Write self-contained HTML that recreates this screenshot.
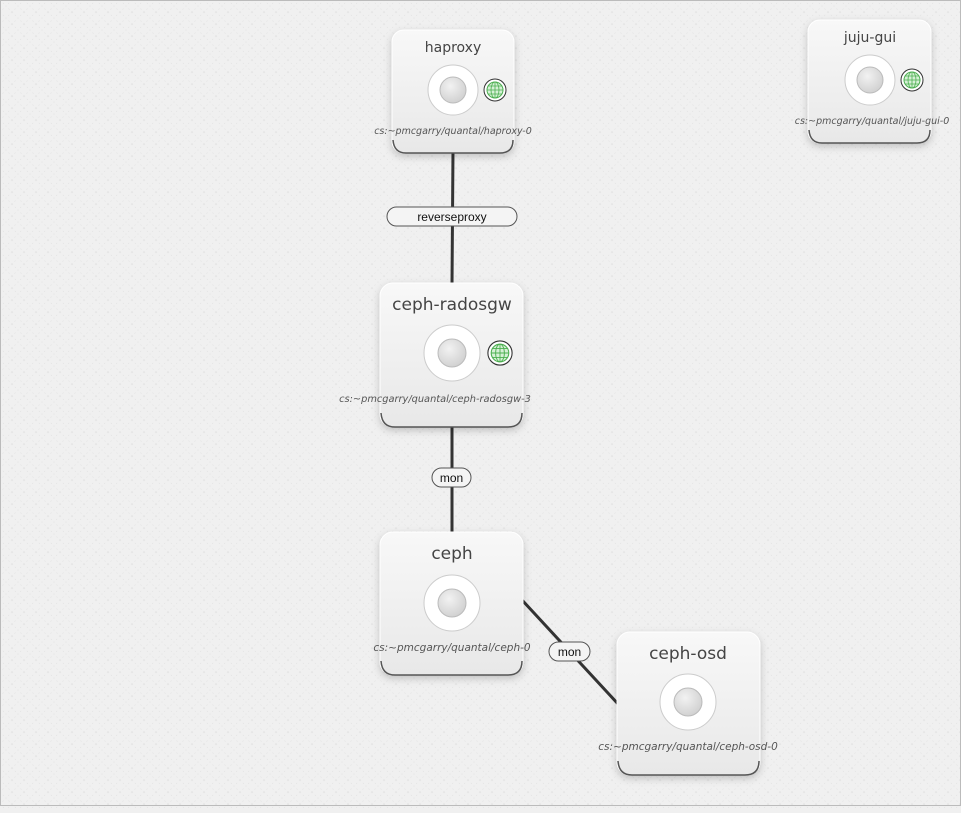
<!DOCTYPE html>
<html><head><style>
body{margin:0;width:961px;height:808px;overflow:hidden;background:#f0f0f0;font-family:"Liberation Sans",sans-serif}
</style></head><body>
<svg width="961" height="808" xmlns="http://www.w3.org/2000/svg">
<defs>
<pattern id="dots" width="12" height="12" patternUnits="userSpaceOnUse">
<rect width="12" height="12" fill="#f0f0f0"/>
<path d="M0 0L12 12M12 0L0 12" stroke="#e2e2e2" stroke-width="0.6" stroke-dasharray="1.5 2.5"/>
</pattern>
<linearGradient id="box" x1="0" y1="0" x2="0" y2="1"><stop offset="0" stop-color="#f8f8f8"/><stop offset="1" stop-color="#e8e8e8"/></linearGradient>
<radialGradient id="inner" cx="0.4" cy="0.35" r="0.7"><stop offset="0" stop-color="#f2f2f2"/><stop offset="1" stop-color="#cfcfcf"/></radialGradient>
<filter id="sh" x="-20%" y="-20%" width="140%" height="150%"><feDropShadow dx="0" dy="3" stdDeviation="4" flood-color="#000" flood-opacity="0.2"/></filter>
<g id="globe"><circle r="11" fill="#fff" stroke="#333" stroke-width="1"/><circle r="8" fill="#d6f0d6" stroke="#4caf50" stroke-width="1"/><path d="M-8 0H8M0 -8V8M-7 -4H7M-7 4H7" stroke="#4caf50" stroke-width="0.8" fill="none"/><ellipse rx="4" ry="8" fill="none" stroke="#4caf50" stroke-width="0.8"/></g>
</defs>
<rect width="961" height="808" fill="url(#dots)"/>
<rect x="0.5" y="0.5" width="960" height="805" fill="none" stroke="#bbb"/>
<g stroke="#333" stroke-width="3">
<line x1="453" y1="150" x2="452" y2="285"/>
<line x1="452" y1="425" x2="452" y2="535"/>
<line x1="522" y1="600" x2="619" y2="705"/>
</g>
<g font-size="12" text-anchor="middle" fill="#111">
<rect x="387" y="207" width="130" height="19" rx="9.5" fill="#f4f4f4" stroke="#555"/><text x="452" y="221">reverseproxy</text>
<rect x="432" y="468" width="39" height="19" rx="9.5" fill="#f4f4f4" stroke="#555"/><text x="451.5" y="482">mon</text>
<rect x="549" y="642" width="41" height="19" rx="9.5" fill="#f4f4f4" stroke="#555"/><text x="569.5" y="656">mon</text>
</g>
<g font-family="DejaVu Sans, sans-serif" text-anchor="middle">
<rect x="392" y="30" width="122" height="123" rx="12" fill="url(#box)" stroke="#fff" filter="url(#sh)"/>
<path d="M393 140 Q394 153 406 153 H500 Q513 153 513 140" fill="none" stroke="#555" stroke-width="1.5"/>
<text x="453" y="52" font-size="14" fill="#444">haproxy</text>
<circle cx="453" cy="90" r="25" fill="#fff" stroke="#ccc"/><circle cx="453" cy="90" r="13" fill="url(#inner)" stroke="#bbb"/>
<use href="#globe" x="495" y="90"/>
<text x="453" y="134" font-size="9.5" font-style="italic" fill="#555">cs:~pmcgarry/quantal/haproxy-0</text>
<rect x="808" y="20" width="123" height="123" rx="12" fill="url(#box)" stroke="#fff" filter="url(#sh)"/>
<path d="M809 130 Q810 143 822 143 H917 Q930 143 930 130" fill="none" stroke="#555" stroke-width="1.5"/>
<text x="870" y="42" font-size="14" fill="#444">juju-gui</text>
<circle cx="870" cy="80" r="25" fill="#fff" stroke="#ccc"/><circle cx="870" cy="80" r="13" fill="url(#inner)" stroke="#bbb"/>
<use href="#globe" x="912" y="80"/>
<text x="872" y="124" font-size="9.5" font-style="italic" fill="#555">cs:~pmcgarry/quantal/juju-gui-0</text>
<rect x="380" y="283" width="143" height="144" rx="13" fill="url(#box)" stroke="#fff" filter="url(#sh)"/>
<path d="M381 413 Q382 427 395 427 H508 Q522 427 522 413" fill="none" stroke="#555" stroke-width="1.5"/>
<text x="452" y="310" font-size="17" fill="#444">ceph-radosgw</text>
<circle cx="452" cy="353" r="28" fill="#fff" stroke="#ccc"/><circle cx="452" cy="353" r="14" fill="url(#inner)" stroke="#bbb"/>
<use href="#globe" x="500" y="353" transform="translate(-50 -35.3) scale(1.1)" />
<text x="435" y="402" font-size="9.8" font-style="italic" fill="#555">cs:~pmcgarry/quantal/ceph-radosgw-3</text>
<rect x="380" y="532" width="143" height="143" rx="13" fill="url(#box)" stroke="#fff" filter="url(#sh)"/>
<path d="M381 661 Q382 675 395 675 H508 Q522 675 522 661" fill="none" stroke="#555" stroke-width="1.5"/>
<text x="452" y="559" font-size="17" fill="#444">ceph</text>
<circle cx="452" cy="603" r="28" fill="#fff" stroke="#ccc"/><circle cx="452" cy="603" r="14" fill="url(#inner)" stroke="#bbb"/>
<text x="452" y="651" font-size="10.5" font-style="italic" fill="#555">cs:~pmcgarry/quantal/ceph-0</text>
<rect x="617" y="632" width="143" height="143" rx="13" fill="url(#box)" stroke="#fff" filter="url(#sh)"/>
<path d="M618 761 Q619 775 632 775 H745 Q759 775 759 761" fill="none" stroke="#555" stroke-width="1.5"/>
<text x="688" y="659" font-size="17" fill="#444">ceph-osd</text>
<circle cx="688" cy="702" r="28" fill="#fff" stroke="#ccc"/><circle cx="688" cy="702" r="14" fill="url(#inner)" stroke="#bbb"/>
<text x="688" y="750" font-size="10.5" font-style="italic" fill="#555">cs:~pmcgarry/quantal/ceph-osd-0</text>
</g>
</svg>
</body></html>
